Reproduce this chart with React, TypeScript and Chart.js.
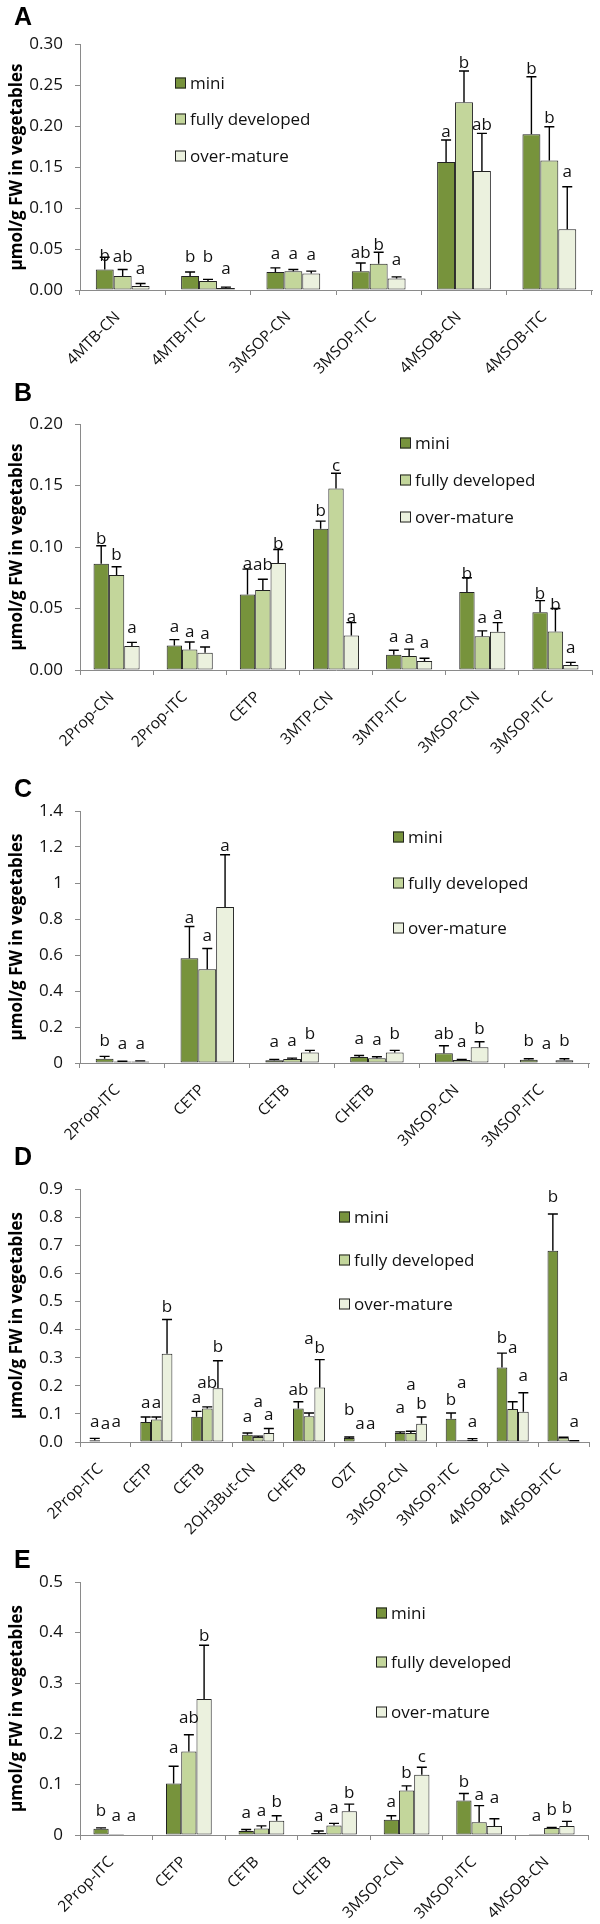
import React, { useEffect, useRef } from "react";
import { Chart, registerables } from "chart.js";

Chart.register(...registerables);

const FONT = "'Open Sans', sans-serif";
const SERIES = ["mini", "fully developed", "over-mature"];
const COLORS = ["#77933C", "#C3D69B", "#EBF1DE"];
const Y_TITLE = "µmol/g FW in vegetables";

// ---------- Panel A ----------
const aCategories = ["4MTB-CN", "4MTB-ITC", "3MSOP-CN", "3MSOP-ITC", "4MSOB-CN", "4MSOB-ITC"];
const aMini = [0.025, 0.017, 0.022, 0.023, 0.156, 0.19];
const aFully = [0.017, 0.011, 0.023, 0.032, 0.229, 0.158];
const aOver = [0.005, 0.0025, 0.02, 0.014, 0.145, 0.074];
const aMiniErr = [0.015, 0.005, 0.005, 0.01, 0.027, 0.07];
const aFullyErr = [0.008, 0.002, 0.002, 0.014, 0.038, 0.041];
const aOverErr = [0.003, 0.001, 0.003, 0.002, 0.046, 0.052];
const aMiniLetters = ["b", "b", "a", "ab", "a", "b"];
const aFullyLetters = ["ab", "b", "a", "b", "b", "b"];
const aOverLetters = ["a", "a", "a", "a", "ab", "a"];
const aMiniLetterAt = [0.041, 0.04, 0.044, 0.045, 0.192, 0.269];
const aFullyLetterAt = [0.04, 0.04, 0.044, 0.055, 0.277, 0.209];
const aOverLetterAt = [0.026, 0.025, 0.043, 0.037, 0.201, 0.144];

// ---------- Panel B ----------
const bCategories = ["2Prop-CN", "2Prop-ITC", "CETP", "3MTP-CN", "3MTP-ITC", "3MSOP-CN", "3MSOP-ITC"];
const bMini = [0.0863, 0.02, 0.0613, 0.1148, 0.0125, 0.0635, 0.047];
const bFully = [0.0773, 0.0166, 0.065, 0.1476, 0.0114, 0.0274, 0.0312];
const bOver = [0.0195, 0.014, 0.087, 0.028, 0.0073, 0.031, 0.004];
const bMiniErr = [0.0147, 0.0047, 0.0207, 0.0062, 0.0035, 0.0115, 0.0094];
const bFullyErr = [0.0067, 0.0062, 0.0088, 0.0124, 0.0056, 0.0044, 0.0188];
const bOverErr = [0.003, 0.0047, 0.011, 0.0105, 0.0022, 0.0075, 0.0022];
const bMiniLetters = ["b", "a", "a", "b", "a", "b", "b"];
const bFullyLetters = ["b", "a", "ab", "c", "a", "a", "b"];
const bOverLetters = ["a", "a", "b", "a", "a", "a", "a"];
const bMiniLetterAt = [0.106, 0.035, 0.086, 0.129, 0.027, 0.078, 0.062];
const bFullyLetterAt = [0.093, 0.031, 0.085, 0.166, 0.026, 0.042, 0.053];
const bOverLetterAt = [0.034, 0.029, 0.102, 0.043, 0.022, 0.045, 0.018];

// ---------- Panel C ----------
const cCategories = ["2Prop-ITC", "CETP", "CETB", "CHETB", "3MSOP-CN", "3MSOP-ITC"];
const cMini = [0.024, 0.582, 0.015, 0.033, 0.054, 0.018];
const cFully = [0.009, 0.521, 0.022, 0.027, 0.017, 0];
const cOver = [0.008, 0.867, 0.059, 0.059, 0.087, 0.015];
const cMiniErr = [0.013, 0.176, 0.005, 0.009, 0.042, 0.006];
const cFullyErr = [0.001, 0.115, 0.005, 0.008, 0.003, 0];
const cOverErr = [0.004, 0.29, 0.011, 0.011, 0.031, 0.009];
const cMiniLetters = ["b", "a", "a", "a", "ab", "b"];
const cFullyLetters = ["a", "a", "a", "a", "a", "a"];
const cOverLetters = ["a", "a", "b", "b", "b", "b"];
const cMiniLetterAt = [0.124, 0.807, 0.116, 0.135, 0.161, 0.12];
const cFullyLetterAt = [0.105, 0.707, 0.12, 0.129, 0.116, 0.102];
const cOverLetterAt = [0.105, 1.206, 0.161, 0.161, 0.188, 0.12];

// ---------- Panel D ----------
const dCategories = ["2Prop-ITC", "CETP", "CETB", "2OH3But-CN", "CHETB", "OZT", "3MSOP-CN", "3MSOP-ITC", "4MSOB-CN", "4MSOB-ITC"];
const dMini = [0.006, 0.071, 0.09, 0.026, 0.119, 0.014, 0.032, 0.083, 0.265, 0.68];
const dFully = [0, 0.08, 0.119, 0.018, 0.092, 0, 0.032, 0.006, 0.117, 0.015];
const dOver = [0, 0.314, 0.191, 0.032, 0.194, 0, 0.065, 0.007, 0.108, 0.004];
const dMiniErr = [0.007, 0.018, 0.019, 0.006, 0.024, 0.004, 0.004, 0.02, 0.051, 0.131];
const dFullyErr = [0, 0.009, 0.006, 0.003, 0.011, 0, 0.006, 0, 0.026, 0.002];
const dOverErr = [0, 0.122, 0.098, 0.016, 0.099, 0, 0.024, 0.005, 0.067, 0.001];
const dMiniLetters = ["a", "a", "a", "a", "ab", "b", "a", "b", "b", "b"];
const dFullyLetters = ["a", "a", "ab", "a", "a", "a", "a", "a", "a", "a"];
const dOverLetters = ["a", "b", "b", "a", "b", "a", "b", "a", "a", "a"];
const dMiniLetterAt = [0.071, 0.137, 0.155, 0.089, 0.184, 0.113, 0.119, 0.149, 0.369, 0.87];
const dFullyLetterAt = [0.065, 0.137, 0.208, 0.143, 0.366, 0.065, 0.202, 0.208, 0.333, 0.235];
const dOverLetterAt = [0.071, 0.48, 0.339, 0.095, 0.333, 0.065, 0.133, 0.071, 0.235, 0.071];

// ---------- Panel E ----------
const eCategories = ["2Prop-ITC", "CETP", "CETB", "CHETB", "3MSOP-CN", "3MSOP-ITC", "4MSOB-CN"];
const eMini = [0.0125, 0.102, 0.008, 0.004, 0.03, 0.068, 0.002];
const eFully = [0.002, 0.165, 0.013, 0.019, 0.088, 0.025, 0.014];
const eOver = [0, 0.269, 0.028, 0.047, 0.119, 0.018, 0.018];
const eMiniErr = [0.0015, 0.034, 0.003, 0.004, 0.008, 0.014, 0];
const eFullyErr = [0, 0.033, 0.005, 0.004, 0.009, 0.033, 0.001];
const eOverErr = [0, 0.106, 0.01, 0.014, 0.015, 0.014, 0.009];
const eMiniLetters = ["b", "a", "a", "a", "a", "b", "a"];
const eFullyLetters = ["a", "ab", "a", "a", "b", "a", "b"];
const eOverLetters = ["a", "b", "b", "b", "c", "a", "b"];
const eMiniLetterAt = [0.048, 0.171, 0.044, 0.038, 0.064, 0.104, 0.038];
const eFullyLetterAt = [0.038, 0.231, 0.048, 0.053, 0.123, 0.079, 0.05];
const eOverLetterAt = [0.038, 0.392, 0.065, 0.082, 0.153, 0.072, 0.053];

const fmt2 = (v: number) => v.toFixed(2);
const fmt1 = (v: number) => v.toFixed(1);
const fmtG = (v: number) => String(Number(v.toFixed(3)));

type Panel = {
  tag: string;
  categories: string[];
  values: number[][];
  errs: number[][];
  letters: string[][];
  letterAt: number[][];
  max: number;
  step: number;
  fmt: (v: number) => string;
  // layout (canvas-relative pixels)
  top: number;
  height: number;
  plotTop: number;
  plotBottom: number;
  right: number;
  legendX: number;
  legendY: number[];
  tagY: number;
};

const PANELS: Panel[] = [
  {
    tag: "A", categories: aCategories,
    values: [aMini, aFully, aOver], errs: [aMiniErr, aFullyErr, aOverErr],
    letters: [aMiniLetters, aFullyLetters, aOverLetters], letterAt: [aMiniLetterAt, aFullyLetterAt, aOverLetterAt],
    max: 0.3, step: 0.05, fmt: fmt2,
    top: 0, height: 392, plotTop: 44, plotBottom: 290, right: 592,
    legendX: 175, legendY: [83, 119, 156], tagY: 7,
  },
  {
    tag: "B", categories: bCategories,
    values: [bMini, bFully, bOver], errs: [bMiniErr, bFullyErr, bOverErr],
    letters: [bMiniLetters, bFullyLetters, bOverLetters], letterAt: [bMiniLetterAt, bFullyLetterAt, bOverLetterAt],
    max: 0.2, step: 0.05, fmt: fmt2,
    top: 375, height: 400, plotTop: 49, plotBottom: 295, right: 592,
    legendX: 400, legendY: [68, 105, 142], tagY: 8,
  },
  {
    tag: "C", categories: cCategories,
    values: [cMini, cFully, cOver], errs: [cMiniErr, cFullyErr, cOverErr],
    letters: [cMiniLetters, cFullyLetters, cOverLetters], letterAt: [cMiniLetterAt, cFullyLetterAt, cOverLetterAt],
    max: 1.4, step: 0.2, fmt: fmtG,
    top: 768, height: 395, plotTop: 43, plotBottom: 295, right: 589,
    legendX: 393, legendY: [69, 115, 160], tagY: 11,
  },
  {
    tag: "D", categories: dCategories,
    values: [dMini, dFully, dOver], errs: [dMiniErr, dFullyErr, dOverErr],
    letters: [dMiniLetters, dFullyLetters, dOverLetters], letterAt: [dMiniLetterAt, dFullyLetterAt, dOverLetterAt],
    max: 0.9, step: 0.1, fmt: fmt1,
    top: 1140, height: 410, plotTop: 49, plotBottom: 302, right: 589,
    legendX: 339, legendY: [77, 120, 164], tagY: 7,
  },
  {
    tag: "E", categories: eCategories,
    values: [eMini, eFully, eOver], errs: [eMiniErr, eFullyErr, eOverErr],
    letters: [eMiniLetters, eFullyLetters, eOverLetters], letterAt: [eMiniLetterAt, eFullyLetterAt, eOverLetterAt],
    max: 0.5, step: 0.1, fmt: fmtG,
    top: 1545, height: 379, plotTop: 37, plotBottom: 290, right: 588,
    legendX: 376, legendY: [68, 117, 167], tagY: 5,
  },
];

function makeDecorPlugin(p: Panel) {
  return {
    id: "decor" + p.tag,
    afterDatasetsDraw(chart: any) {
      const ctx = chart.ctx;
      const yScale = chart.scales.y;
      ctx.save();
      // error bars (upper half only)
      chart.data.datasets.forEach((_: any, i: number) => {
        const meta = chart.getDatasetMeta(i);
        meta.data.forEach((el: any, j: number) => {
          const v = p.values[i][j];
          const e = p.errs[i][j];
          if (e > 0) {
            const y0 = yScale.getPixelForValue(v);
            const y1 = yScale.getPixelForValue(v + e);
            ctx.strokeStyle = "#000";
            ctx.lineWidth = 1.4;
            ctx.beginPath();
            ctx.moveTo(el.x, y0);
            ctx.lineTo(el.x, y1);
            ctx.moveTo(el.x - 5, y1);
            ctx.lineTo(el.x + 5, y1);
            ctx.stroke();
          }
        });
      });
      // significance letters
      ctx.fillStyle = "#111";
      ctx.font = `17px ${FONT}`;
      ctx.textAlign = "center";
      ctx.textBaseline = "middle";
      chart.data.datasets.forEach((_: any, i: number) => {
        const meta = chart.getDatasetMeta(i);
        meta.data.forEach((el: any, j: number) => {
          const t = p.letters[i][j];
          if (!t) return;
          ctx.fillText(t, el.x, yScale.getPixelForValue(p.letterAt[i][j]));
        });
      });
      ctx.restore();
    },
    afterDraw(chart: any) {
      const ctx = chart.ctx;
      ctx.save();
      // legend
      p.legendY.forEach((cy, i) => {
        ctx.fillStyle = COLORS[i];
        ctx.fillRect(p.legendX, cy - 5.5, 11, 11);
        ctx.strokeStyle = "#222";
        ctx.lineWidth = 1;
        ctx.strokeRect(p.legendX + 0.5, cy - 5, 10, 10);
        ctx.fillStyle = "#111";
        ctx.font = `17px ${FONT}`;
        ctx.textAlign = "left";
        ctx.textBaseline = "middle";
        ctx.fillText(SERIES[i], p.legendX + 15, cy + 1);
      });
      // panel tag
      ctx.fillStyle = "#000";
      ctx.font = `bold 25px "Liberation Sans", Arial, sans-serif`;
      ctx.textAlign = "left";
      ctx.textBaseline = "alphabetic";
      ctx.fillText(p.tag, 14, p.tagY + 18);
      ctx.restore();
    },
  };
}

function PanelChart({ p }: { p: Panel }) {
  const ref = useRef<HTMLCanvasElement>(null);
  useEffect(() => {
    if (!ref.current) return;
    const chart = new Chart(ref.current, {
      type: "bar",
      data: {
        labels: p.categories,
        datasets: p.values.map((vals, i) => ({
          label: SERIES[i],
          data: vals,
          backgroundColor: COLORS[i],
          borderColor: "#222",
          borderWidth: (c: any) => (c.raw === 0 ? 0 : 1),
          borderSkipped: false,
          categoryPercentage: 0.63,
          barPercentage: 1,
        })),
      },
      options: {
        responsive: false,
        maintainAspectRatio: false,
        animation: false,
        devicePixelRatio: 1,
        layout: { padding: { top: p.plotTop, left: 0, right: 600 - p.right, bottom: 0 } },
        plugins: { legend: { display: false }, tooltip: { enabled: false } },
        scales: {
          x: {
            grid: { display: true, drawOnChartArea: false, drawTicks: true, tickLength: 5, color: "#8a8a8a", offset: true },
            border: { display: true, color: "#8a8a8a", width: 1 },
            ticks: {
              autoSkip: false,
              maxRotation: 45,
              minRotation: 45,
              color: "#111",
              font: { family: FONT, size: 15.5 },
              padding: 13,
              labelOffset: -5,
            },
            afterFit: (s: any) => {
              s.height = p.height - p.plotBottom;
            },
          },
          y: {
            min: 0,
            max: p.max,
            grid: { display: true, drawOnChartArea: false, drawTicks: true, tickLength: 5, color: "#8a8a8a" },
            border: { display: true, color: "#8a8a8a", width: 1 },
            ticks: {
              stepSize: p.step,
              color: "#111",
              font: { family: FONT, size: 17 },
              padding: 12,
              callback: (v: any) => p.fmt(Number(v)),
            },
            title: {
              display: true,
              text: Y_TITLE,
              color: "#000",
              font: { family: FONT, size: 17, weight: "bold" },
              padding: { top: 7, bottom: 0 },
            },
            afterFit: (s: any) => {
              s.width = 80;
            },
          },
        },
      },
      plugins: [makeDecorPlugin(p)],
    } as any);
    return () => chart.destroy();
  }, [p]);
  return (
    <canvas
      ref={ref}
      width={600}
      height={p.height}
      style={{ position: "absolute", left: 0, top: p.top, width: 600, height: p.height }}
    />
  );
}

export default function App() {
  return (
    <div style={{ position: "absolute", left: 0, top: 0, width: 600, height: 1924, background: "#fff", overflow: "hidden" }}>
      {PANELS.map((p) => (
        <PanelChart key={p.tag} p={p} />
      ))}
    </div>
  );
}
